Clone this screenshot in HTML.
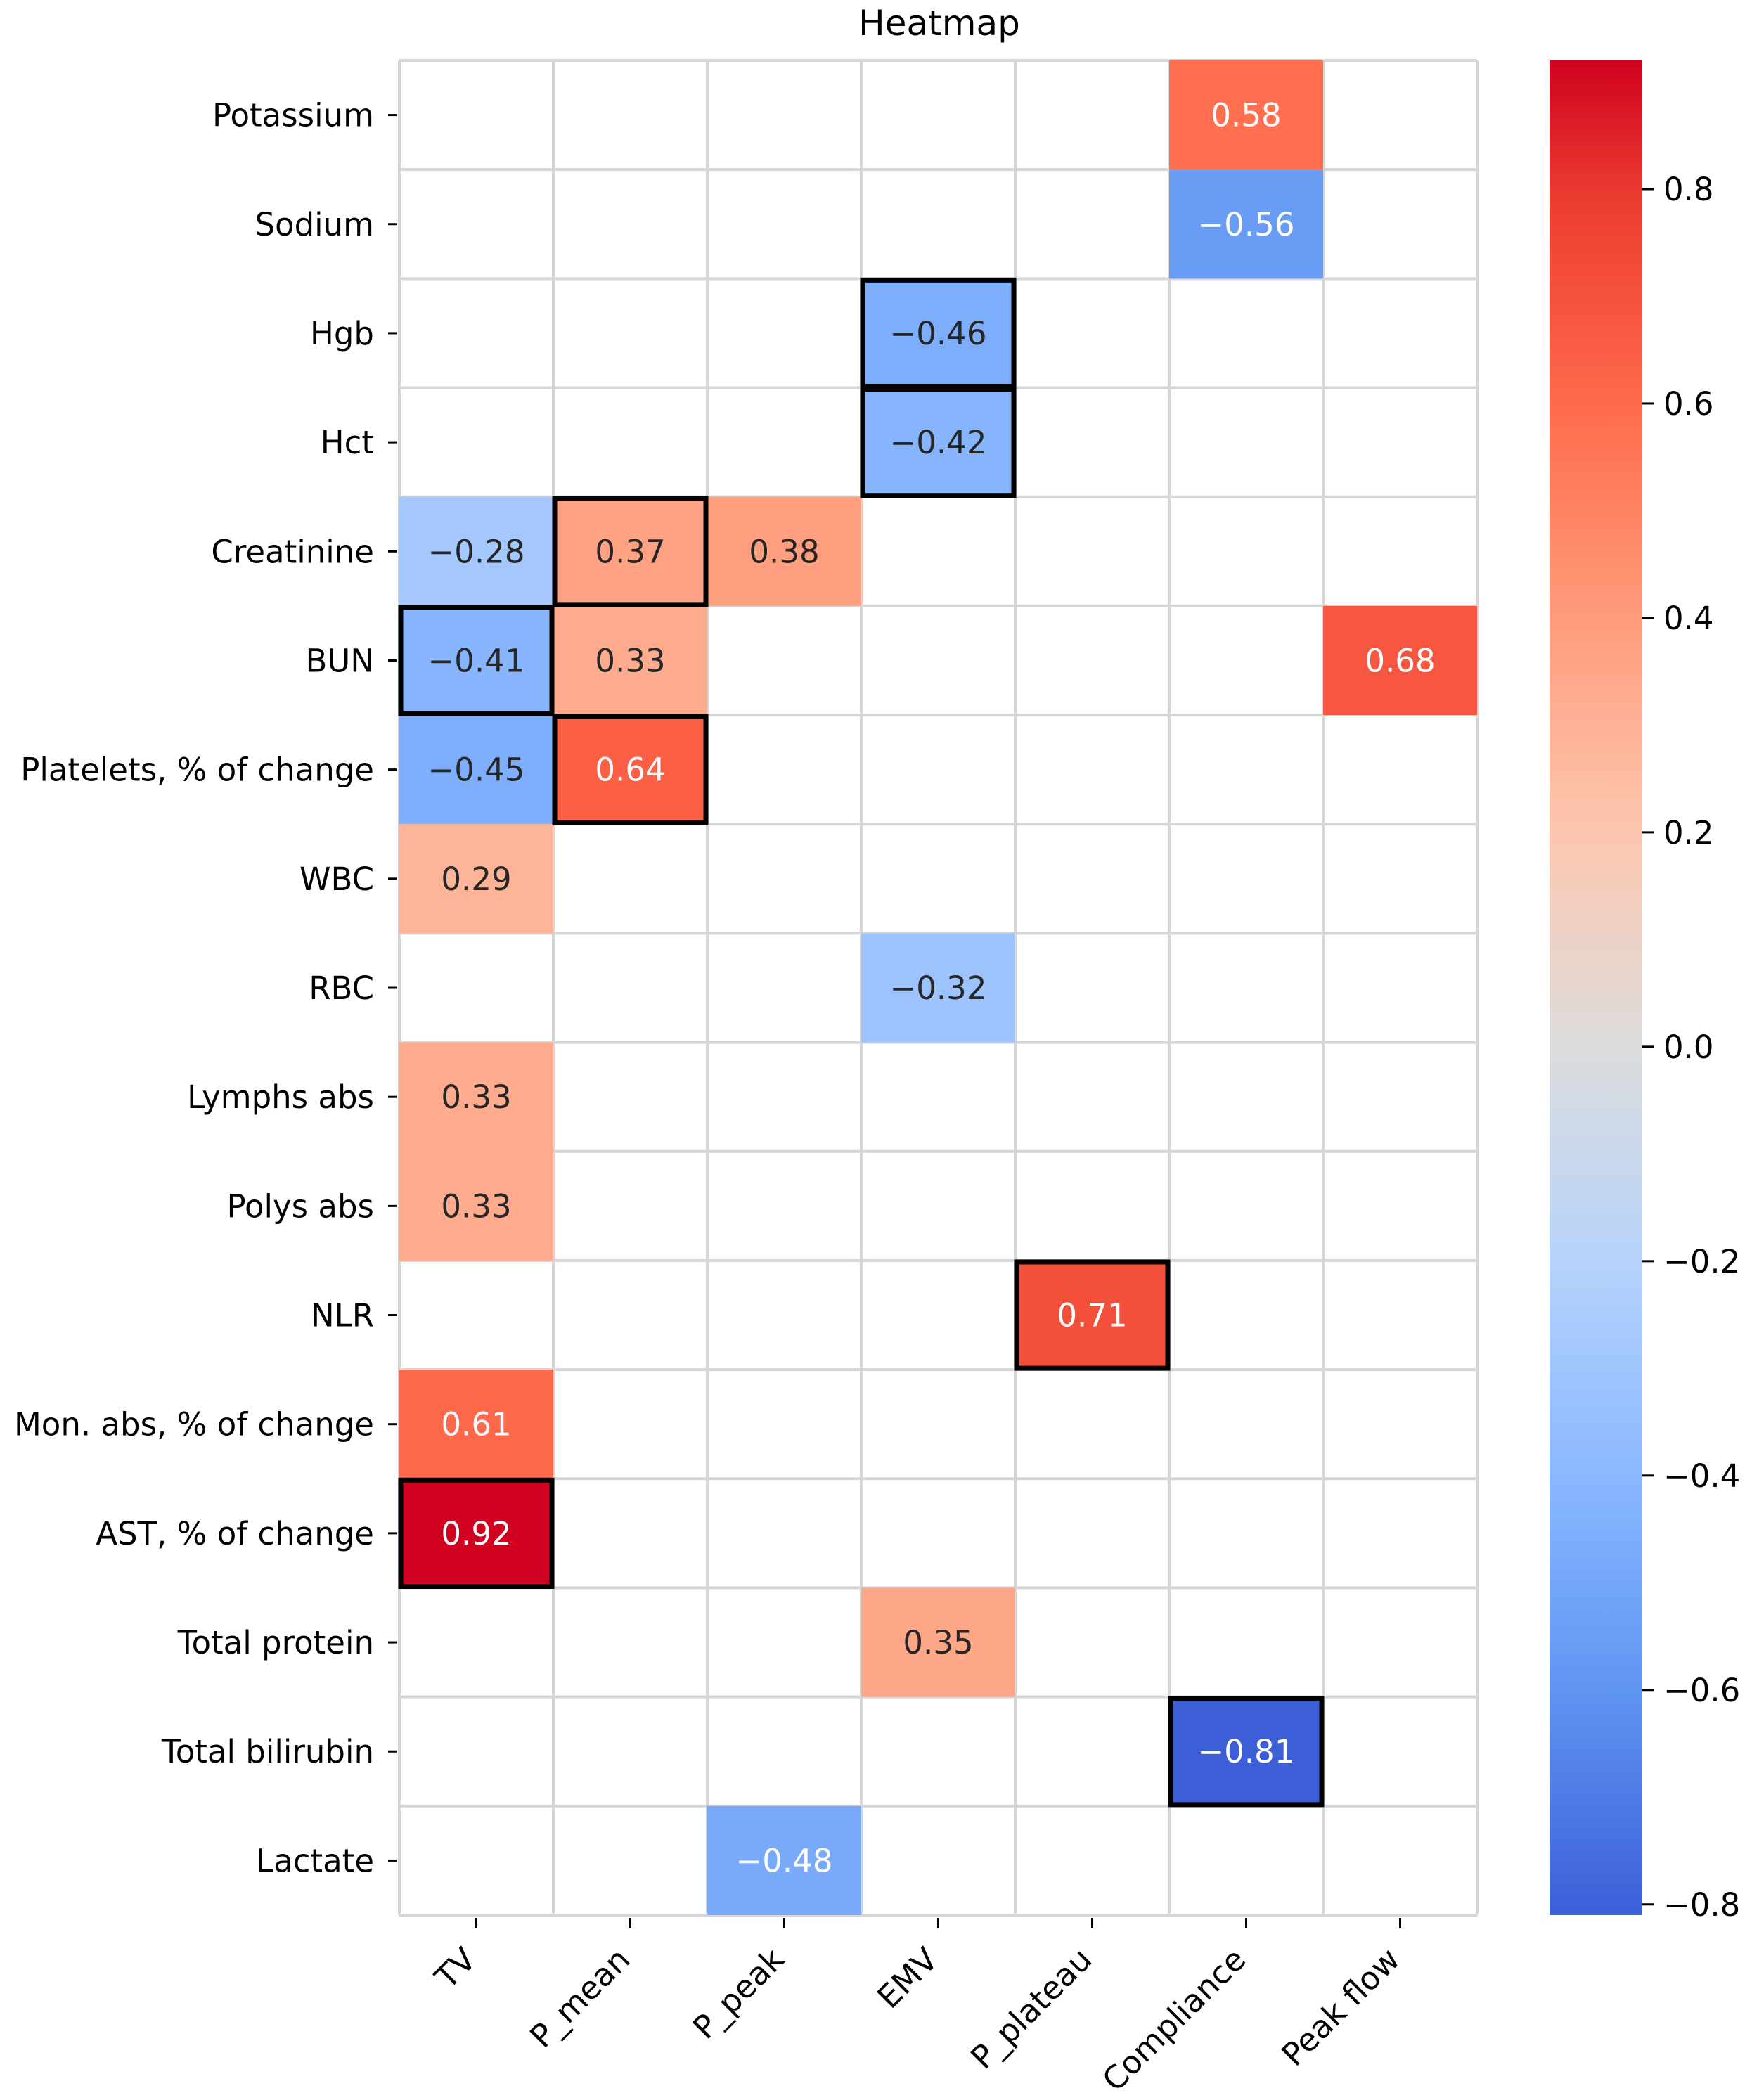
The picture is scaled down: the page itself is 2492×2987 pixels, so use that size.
<!DOCTYPE html>
<html><head><meta charset="utf-8"><style>
html,body{margin:0;padding:0;background:#fff;}
svg{display:block;font-family:"DejaVu Sans","Liberation Sans",sans-serif;}
</style></head><body>
<svg id="chart" width="2492" height="2987" viewBox="0 0 2492 2987" xmlns="http://www.w3.org/2000/svg">
<text x="1336" y="50" font-size="50" text-anchor="middle" fill="#000">Heatmap</text>
<g id="grid"></g>
<g id="cells"></g>
<g id="boxes"></g>
<g id="yaxis"></g>
<g id="xaxis"></g>
<g id="cbar"></g>
</svg>
<script>
const rowLabels = ["Potassium","Sodium","Hgb","Hct","Creatinine","BUN","Platelets, % of change","WBC","RBC","Lymphs abs","Polys abs","NLR","Mon. abs, % of change","AST, % of change","Total protein","Total bilirubin","Lactate"];
const colLabels = ["TV","P_mean","P_peak","EMV","P_plateau","Compliance","Peak flow"];
const cellRows = [0,1,2,3,4,4,4,5,5,5,6,6,7,8,9,10,11,12,13,14,15,16];
const cellCols = [5,5,3,3,0,1,2,0,1,6,0,1,0,3,0,0,4,0,0,3,5,2];
const cellVals = [0.58,-0.56,-0.46,-0.42,-0.28,0.37,0.38,-0.41,0.33,0.68,-0.45,0.64,0.29,-0.32,0.33,0.33,0.71,0.61,0.92,0.35,-0.81,-0.48];
const boxRows = [2,3,4,5,6,11,13,15];
const boxCols = [3,3,1,0,1,4,0,5];
const cbarTicks = [0.8,0.6,0.4,0.2,0.0,-0.2,-0.4,-0.6,-0.8];

const NS="http://www.w3.org/2000/svg";
const X0=568,X1=2101,Y0=86,Y1=2724;
const cw=(X1-X0)/colLabels.length, rh=(Y1-Y0)/rowLabels.length;
const vmin=Math.min(...cellVals), vmax=Math.max(...cellVals);
const xs=c=>X0+c*cw, ys=r=>Y0+r*rh;
const stopVals=[-0.81,-0.6,-0.4,-0.2,0.0,0.2,0.4,0.6,0.8,0.92];
const stopCols=[[60,95,216],[95,149,242],[138,184,255],[182,211,251],[220,220,220],[253,199,176],[254,156,123],[255,106,75],[234,58,47],[208,2,31]];
function cmapV(v){
  const lo=stopVals[0],hi=stopVals[stopVals.length-1];
  v=lo+(hi-lo)*((v-vmin)/(vmax-vmin));
  for(let i=0;i<stopVals.length-1;i++){
    if(v<=stopVals[i+1]||i===stopVals.length-2){
      const f=Math.max(0,Math.min(1,(v-stopVals[i])/(stopVals[i+1]-stopVals[i])));
      const a=stopCols[i],b=stopCols[i+1];
      return a.map((x,k)=>Math.round(x+(b[k]-x)*f));
    }
  }
}
function el(tag,attrs,parent){const e=document.createElementNS(NS,tag);for(const k in attrs)e.setAttribute(k,attrs[k]);parent.appendChild(e);return e;}
const fmt=v=>(v<0?"\u2212":"")+Math.abs(v).toFixed(2);
const lin=c=>{c/=255;return c<=0.03928?c/12.92:Math.pow((c+0.055)/1.055,2.4);};

const grid=document.getElementById('grid');
for(let c=0;c<=colLabels.length;c++){const l=el('line',{x1:xs(c),x2:xs(c),y1:Y0,y2:Y1,stroke:'#d6d6d6','stroke-width':4},grid);

}
for(let r=0;r<=rowLabels.length;r++){const l=el('line',{x1:X0,x2:X1,y1:ys(r),y2:ys(r),stroke:'#d6d6d6','stroke-width':4},grid);

}

const cells=document.getElementById('cells');
cellVals.forEach((v,i)=>{const r=cellRows[i],c=cellCols[i];const col=cmapV(v);
const rect=el('rect',{x:xs(c),y:ys(r),width:cw,height:rh,fill:`rgb(${col})`},cells);


const lum=0.2126*lin(col[0])+0.7152*lin(col[1])+0.0722*lin(col[2]);
const t=el('text',{x:xs(c)+cw/2,y:ys(r)+rh/2+16,'font-size':45,'text-anchor':'middle',fill:lum<0.408?'#fff':'#262626'},cells);
t.textContent=fmt(v);

});

const boxes=document.getElementById('boxes');
boxRows.forEach((r,i)=>{const c=boxCols[i];const b=el('rect',{x:xs(c)+2,y:ys(r)+2,width:cw-4,height:rh-4,fill:'none',stroke:'#000','stroke-width':7},boxes);

});

const ya=document.getElementById('yaxis');
rowLabels.forEach((lab,r)=>{const y=ys(r)+rh/2;
const tk=el('line',{x1:X0-16,x2:X0-4,y1:y,y2:y,stroke:'#000','stroke-width':3},ya);


const t=el('text',{x:X0-36,y:y+16,'font-size':45,'text-anchor':'end',fill:'#000'},ya);t.textContent=lab;

});

const xa=document.getElementById('xaxis');
colLabels.forEach((lab,c)=>{const x=xs(c)+cw/2;
const tk=el('line',{x1:x,x2:x,y1:Y1+4,y2:Y1+19,stroke:'#000','stroke-width':3},xa);


const px=x+2,py=2790;
const t=el('text',{x:px,y:py,'font-size':45,'text-anchor':'end',fill:'#000',transform:`rotate(-45 ${px} ${py})`},xa);t.textContent=lab;

});

const cb=document.getElementById('cbar');
const CX0=2204,CX1=2336;
const defs=el('defs',{},cb);
const grad=el('linearGradient',{id:'cg',x1:0,y1:1,x2:0,y2:0},defs);
for(let i=0;i<=40;i++){const v=vmin+(vmax-vmin)*i/40;const col=cmapV(v);el('stop',{offset:i/40,'stop-color':`rgb(${col})`},grad);}
const cr=el('rect',{x:CX0,y:Y0,width:CX1-CX0,height:Y1-Y0,fill:'url(#cg)'},cb);


const cy=v=>Y1-(v-vmin)/(vmax-vmin)*(Y1-Y0);
cbarTicks.forEach(v=>{const y=cy(v);
const tk=el('line',{x1:CX1,x2:CX1+16,y1:y,y2:y,stroke:'#000','stroke-width':3},cb);


const t=el('text',{x:CX1+30,y:y+16,'font-size':45,fill:'#000'},cb);t.textContent=(v<0?"\u2212":"")+Math.abs(v).toFixed(1);

});
</script>
</body></html>
